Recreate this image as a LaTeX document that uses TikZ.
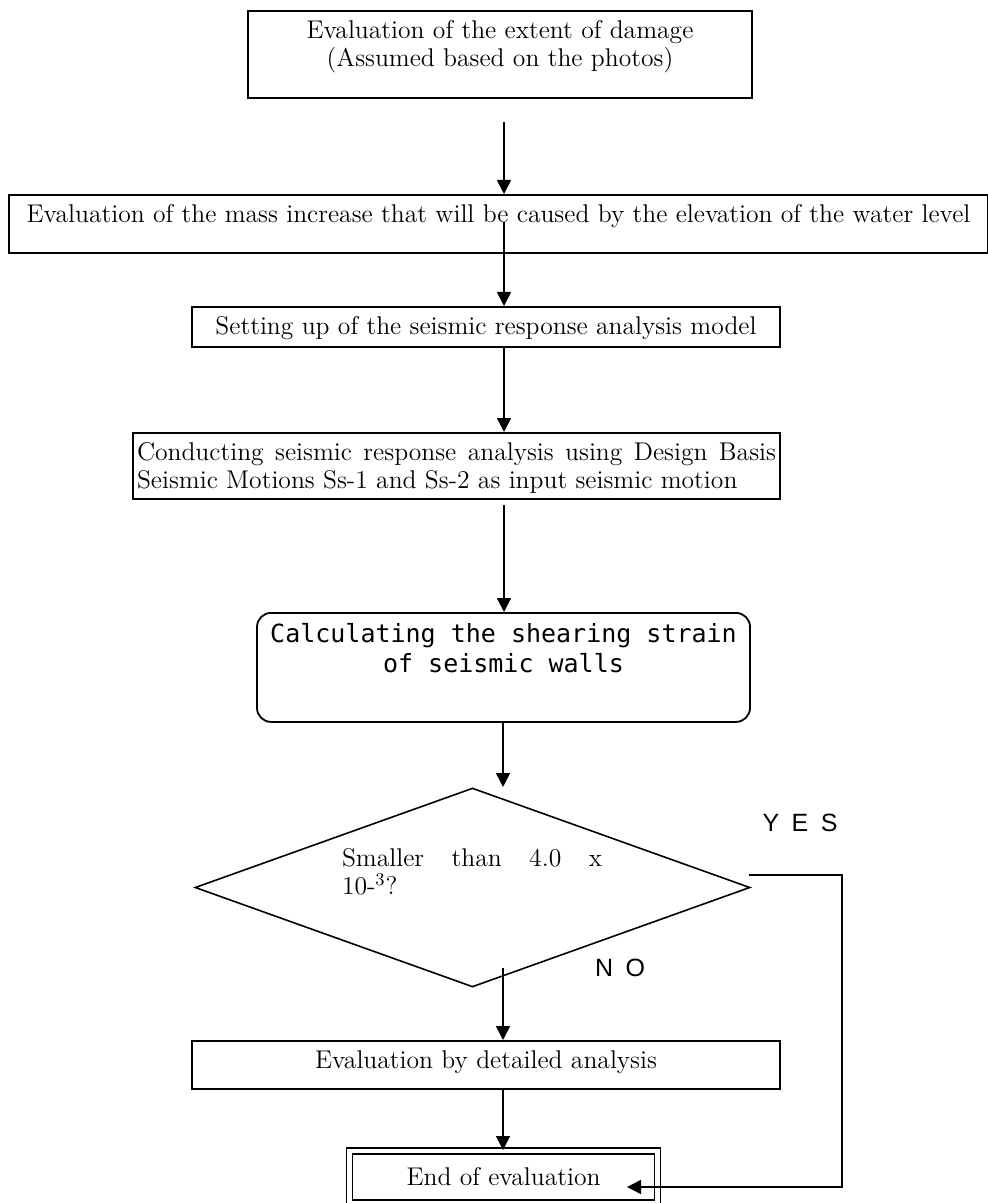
\documentclass[tikz,border=0pt]{standalone}
\usepackage{fontspec}
\newfontfamily\gothfont{DejaVu Sans Mono}
\newfontfamily\ynfont[LetterSpace=50]{Liberation Sans}
\usetikzlibrary{shapes.geometric}
\usepgflibrary{arrows.meta}
\newcommand{\topbox}[3]{\parbox[c][#2][t]{#1}{#3}}
\tikzset{
	flowtext/.style={font=\fontsize{12.8}{14}\selectfont},
	flowbox/.style={flowtext, draw, line width=0.9pt, rectangle, anchor=north, inner xsep=2pt, inner ysep=5pt},
	flowline/.style={line width=0.8pt},
	yesno/.style={font=\ynfont\fontsize{12.5}{15}\selectfont, inner sep=0pt},
}

\begin{document}
\begin{tikzpicture}[x=0.5pt,y=-0.5pt]
		\useasboundingbox (0,0) rectangle (988,1203);
		\node [flowbox] (damage) at (500,10) {\topbox{248pt}{33.5pt}{\centering Evaluation of the extent of damage\\(Assumed based on the photos)}};
		\node [flowbox] (mass) at (498.5,194) {\topbox{485.5pt}{19pt}{\centering Evaluation of the mass increase that will be caused by the elevation of the water level}};
		\node [flowbox] (model) at (486,306) {\topbox{290pt}{10pt}{\centering Setting up of the seismic response analysis model}};
		\node [flowbox] (response) at (456.5,432) {\topbox{319.5pt}{23pt}{Conducting seismic response analysis using Design Basis\linebreak Seismic Motions Ss-1 and Ss-2 as input seismic motion}};
		\node [flowbox, rounded corners=7pt] (strain) at (503.5,612) {\topbox{242.5pt}{44.5pt}{\centering\gothfont\fontsize{12.5}{15}\selectfont Calculating the shearing strain\\of seismic walls}};
		\node [draw, diamond, line width=0.8pt, minimum width=277.5pt, minimum height=99.5pt, inner sep=0pt] (check) at (472.5,887.5) {};
		\node [flowtext, inner sep=0pt] (checktext) at (472,871.5) {\parbox{130pt}{Smaller than 4.0 x\linebreak 10-\textsuperscript{3}?}};
		\node [yesno] (yes) at (800,823) {YES};
		\node [yesno] (no) at (620,968) {NO};
		\node [flowbox] (detail) at (486,1040) {\topbox{290pt}{14pt}{\centering Evaluation by detailed analysis}};
		\node [flowbox, double, line width=0.8pt, double distance=2.2pt, anchor=north, minimum width=154pt, minimum height=26pt] (endeval) at (503.5,1150) {End of evaluation};
		\coordinate (a1) at (504,122);
		\coordinate (a2) at (504,222);
		\coordinate (a4) at (504,505);
		\coordinate (a5) at (503,787);
		\coordinate (a6) at (503,968);
		\coordinate (yesout) at (749,875);
		\coordinate (yesin) at (627,1187);
		\draw [flowline][-{Triangle[width=7pt,length=7pt]}] (a1) -- (a1 |- mass.north);
		\draw [flowline][-{Triangle[width=7pt,length=7pt]}] (a2) -- (a2 |- model.north);
		\draw [flowline][-{Triangle[width=7pt,length=7pt]}] (a2 |- model.south) -- (a2 |- response.north);
		\draw [flowline][-{Triangle[width=7pt,length=7pt]}] (a4) -- (a4 |- strain.north);
		\draw [flowline][-{Triangle[width=7pt,length=7pt]}] (a5 |- strain.south) -- (a5);
		\draw [flowline][-{Triangle[width=7pt,length=7pt]}] (a6) -- (a6 |- detail.north);
		\draw [flowline][-{Triangle[width=7pt,length=7pt]}] (a6 |- detail.south) -- (a6 |- endeval.north);
		\draw [flowline][-{Triangle[width=7pt,length=7pt]}] (yesout) -- ++(93,0) |- (yesin);
	\end{tikzpicture}
\end{document}
